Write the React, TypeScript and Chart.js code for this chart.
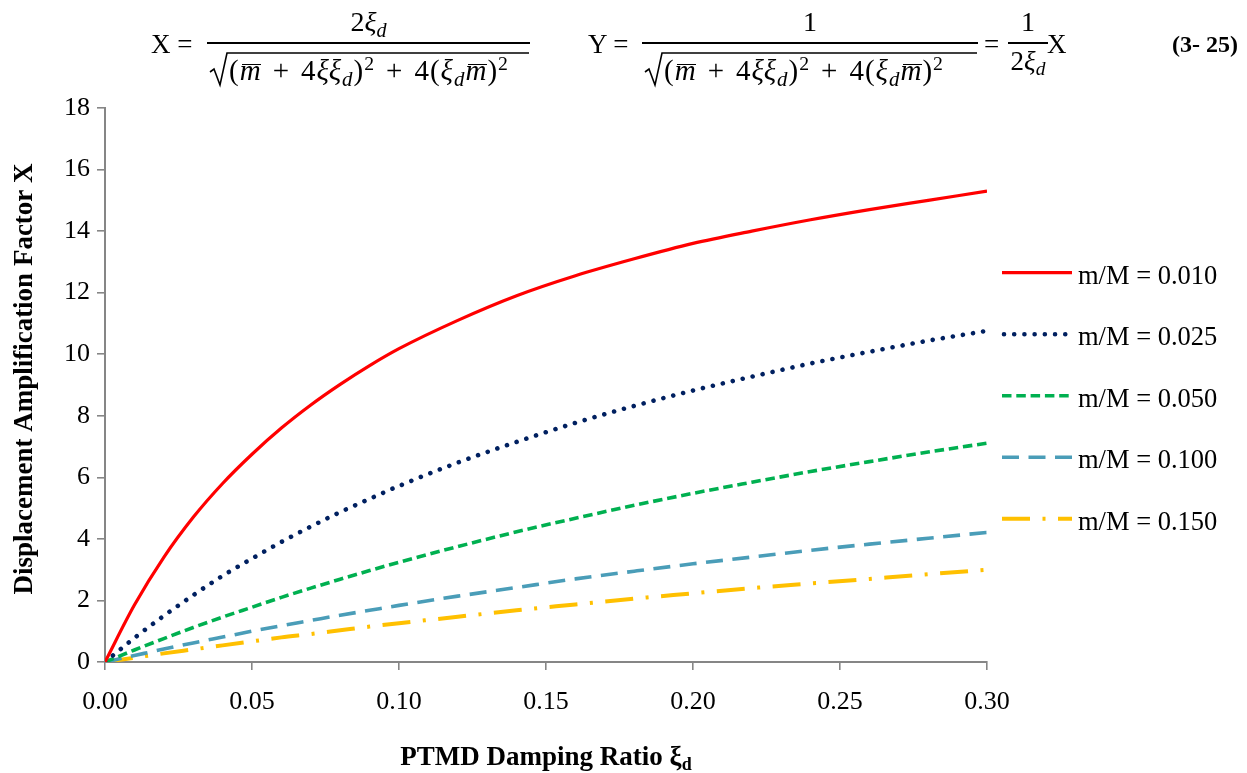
import React, { useEffect, useRef } from "react";
import { Chart, registerables } from "chart.js";

Chart.register(...registerables);

// ---- data ----
const xiD = [0, 0.01, 0.02, 0.03, 0.04, 0.05, 0.06, 0.07, 0.08, 0.09, 0.1, 0.12, 0.14, 0.16, 0.18, 0.2, 0.22, 0.24, 0.26, 0.28, 0.3];
const m010 = [0, 1.85, 3.4, 4.7, 5.8, 6.75, 7.6, 8.35, 9.02, 9.63, 10.18, 11.1, 11.9, 12.55, 13.1, 13.6, 14.0, 14.37, 14.7, 15.0, 15.3];
const m025 = [0, 0.78, 1.5, 2.17, 2.8, 3.36, 3.9, 4.4, 4.87, 5.3, 5.72, 6.48, 7.15, 7.77, 8.32, 8.82, 9.27, 9.7, 10.08, 10.44, 10.76];
const m050 = [0, 0.39, 0.76, 1.12, 1.46, 1.78, 2.1, 2.4, 2.69, 2.97, 3.24, 3.75, 4.23, 4.67, 5.09, 5.48, 5.84, 6.19, 6.51, 6.82, 7.11];
const m100 = [0, 0.21, 0.42, 0.62, 0.81, 1.0, 1.18, 1.35, 1.52, 1.68, 1.84, 2.14, 2.42, 2.7, 2.95, 3.19, 3.41, 3.63, 3.83, 4.02, 4.21];
const m150 = [0, 0.14, 0.28, 0.41, 0.54, 0.67, 0.8, 0.91, 1.03, 1.15, 1.26, 1.47, 1.68, 1.87, 2.06, 2.23, 2.4, 2.55, 2.7, 2.85, 3.0];

const seriesLabels = ["m/M = 0.010", "m/M = 0.025", "m/M = 0.050", "m/M = 0.100", "m/M = 0.150"];
const seriesValues = [m010, m025, m050, m100, m150];

const xTitle = "PTMD Damping Ratio ξ";
const xTitleSub = "d";
const yTitle = "Displacement Amplification Factor X";

const SERIF = '"Liberation Serif", "Times New Roman", serif';

const styles = [
  { color: "#FF0000", width: 3.2, dash: [] as number[], cap: "butt" },
  { color: "#002060", width: 4.6, dash: [0.01, 10.2], cap: "round" },
  { color: "#00B050", width: 3.6, dash: [9.5, 4.8], cap: "butt" },
  { color: "#4A9DB8", width: 3.6, dash: [17, 9.5], cap: "butt" },
  { color: "#FFC000", width: 4, dash: [28, 12.5, 3, 12.5], cap: "butt" },
];

const titlesAndLegend = {
  id: "titlesAndLegend",
  afterDraw(chart: any) {
    const ctx = chart.ctx as CanvasRenderingContext2D;
    // legend
    chart.data.datasets.forEach((ds: any, i: number) => {
      const ly = 272.7 + 61.5 * i;
      ctx.save();
      ctx.strokeStyle = ds.borderColor;
      ctx.lineWidth = ds.borderWidth;
      ctx.lineCap = ds.borderCapStyle;
      ctx.setLineDash(ds.borderDash || []);
      ctx.beginPath();
      ctx.moveTo(ds.borderCapStyle === "round" ? 1004 : 1002, ly);
      ctx.lineTo(1072, ly);
      ctx.stroke();
      ctx.setLineDash([]);
      ctx.fillStyle = "#000";
      ctx.font = `26.5px ${SERIF}`;
      ctx.textBaseline = "alphabetic";
      ctx.textAlign = "left";
      ctx.fillText(ds.label, 1078, ly + 11);
      ctx.restore();
    });
    // y title
    ctx.save();
    ctx.fillStyle = "#000";
    ctx.font = `bold 27px ${SERIF}`;
    ctx.translate(32, 379);
    ctx.rotate(-Math.PI / 2);
    ctx.textAlign = "center";
    ctx.textBaseline = "alphabetic";
    ctx.fillText(yTitle, 0, 0);
    ctx.restore();
    // x title
    ctx.save();
    ctx.fillStyle = "#000";
    ctx.font = `bold 27px ${SERIF}`;
    const w1 = ctx.measureText(xTitle).width;
    ctx.font = `bold 18px ${SERIF}`;
    const w2 = ctx.measureText(xTitleSub).width;
    const x0 = 546 - (w1 + w2) / 2;
    ctx.font = `bold 27px ${SERIF}`;
    ctx.textAlign = "left";
    ctx.fillText(xTitle, x0, 765);
    ctx.font = `bold 18px ${SERIF}`;
    ctx.fillText(xTitleSub, x0 + w1, 770);
    ctx.restore();
  },
};

const I = (p: { children: any; style?: any }) => <span style={{ fontStyle: "italic", ...(p.style || {}) }}>{p.children}</span>;
const XiD = () => (
  <>
    <I>ξ</I>
    <span style={{ fontStyle: "italic", fontSize: "0.72em", position: "relative", top: "0.28em" }}>d</span>
  </>
);
const MBar = () => (
  <span style={{ position: "relative", display: "inline-block" }}>
    <I>m</I>
    <span style={{ position: "absolute", left: "0.08em", right: "0.02em", top: "0.26em", height: 1.4, background: "#000" }} />
  </span>
);
const Sq = () => <span style={{ fontSize: "0.68em", position: "relative", top: "-0.5em" }}>2</span>;
const Plus = () => <span style={{ padding: "0 11px" }}>+</span>;

const DenContent = () => (
  <>
    (<MBar />
    <Plus />4<I>ξ</I>
    <XiD />)<Sq />
    <Plus />4(<XiD />
    <MBar />)<Sq />
  </>
);

function Fraction(p: { left: number; width: number; num: any; den: any; radical?: boolean }) {
  const { left, width, num, den, radical } = p;
  return (
    <>
      <div style={{ position: "absolute", left, width, top: 8, textAlign: "center", lineHeight: "28px", fontSize: 28 }}>{num}</div>
      <div style={{ position: "absolute", left, width, top: 42, height: 1.6, background: "#000" }} />
      {radical ? (
        <>
          <svg style={{ position: "absolute", left: left + 2, top: 50 }} width={width - 2} height={38}>
            <path d={`M1 22 L5 19 L11 35 L18 3 L${width - 3} 3`} stroke="#000" strokeWidth={1.6} fill="none" />
          </svg>
          <div style={{ position: "absolute", left: left + 22, width: width - 22, top: 56, textAlign: "left", lineHeight: "28px", whiteSpace: "nowrap", letterSpacing: "1px", fontSize: 29 }}>{den}</div>
        </>
      ) : (
        <div style={{ position: "absolute", left, width, top: 47, textAlign: "center", lineHeight: "28px", whiteSpace: "nowrap" }}>{den}</div>
      )}
    </>
  );
}

function Equation() {
  const base: any = { position: "absolute", top: 0, left: 0, width: 1247, height: 100, fontFamily: SERIF, fontSize: 27, color: "#000" };
  const txt = (left: number, content: any, extra?: any) => (
    <div style={{ position: "absolute", left, top: 30, lineHeight: "28px", whiteSpace: "nowrap", ...(extra || {}) }}>{content}</div>
  );
  return (
    <div style={base}>
      {txt(151, "X =")}
      <Fraction left={207} width={323} radical num={<>2<XiD /></>} den={<DenContent />} />
      {txt(588, "Y =")}
      <Fraction left={642} width={336} radical num={"1"} den={<DenContent />} />
      {txt(984, "=")}
      <Fraction left={1008} width={40} num={"1"} den={<>2<XiD /></>} />
      {txt(1047, "X")}
      {txt(1172, "(3- 25)", { fontWeight: "bold", fontSize: 24 })}
    </div>
  );
}

export default function App() {
  const ref = useRef<HTMLCanvasElement | null>(null);
  useEffect(() => {
    if (!ref.current) return;
    const datasets = seriesValues.map((vals, i) => ({
      label: seriesLabels[i],
      data: xiD.map((x, j) => ({ x, y: vals[j] })),
      borderColor: styles[i].color,
      backgroundColor: styles[i].color,
      borderWidth: styles[i].width,
      borderDash: styles[i].dash,
      borderCapStyle: styles[i].cap,
      borderJoinStyle: "round",
      pointRadius: 0,
      fill: false,
      cubicInterpolationMode: "monotone",
    }));
    const tickFont = { family: SERIF, size: 26 };
    const chart = new Chart(ref.current, {
      type: "line",
      data: { datasets } as any,
      options: {
        animation: false,
        responsive: false,
        maintainAspectRatio: false,
        layout: { padding: { left: 0, right: 260, top: 108, bottom: 0 } },
        plugins: { legend: { display: false }, tooltip: { enabled: false }, title: { display: false } },
        scales: {
          x: {
            type: "linear",
            min: 0,
            max: 0.3,
            afterFit: (s: any) => { s.height = 111; },
            ticks: { stepSize: 0.05, color: "#000", font: tickFont, padding: 17, maxRotation: 0, autoSkip: false, callback: (v: any) => Number(v).toFixed(2) },
            grid: { display: true, drawOnChartArea: false, drawTicks: true, tickLength: 8, color: "#868686", lineWidth: 1.6 },
            border: { display: true, color: "#868686", width: 2 },
          },
          y: {
            type: "linear",
            min: 0,
            max: 18,
            afterFit: (s: any) => { s.width = 105; },
            ticks: { stepSize: 2, color: "#000", font: tickFont, padding: 7, autoSkip: false },
            grid: { display: true, drawOnChartArea: false, drawTicks: true, tickLength: 8, color: "#868686", lineWidth: 1.6 },
            border: { display: true, color: "#868686", width: 2 },
          },
        },
      } as any,
      plugins: [titlesAndLegend],
    });
    return () => chart.destroy();
  }, []);
  return (
    <div style={{ position: "fixed", left: 0, top: 0, width: 1247, height: 773, background: "#fff" }}>
      <canvas ref={ref} width={1247} height={773} style={{ display: "block", position: "absolute", left: 0, top: 0 }} />
      <Equation />
    </div>
  );
}
